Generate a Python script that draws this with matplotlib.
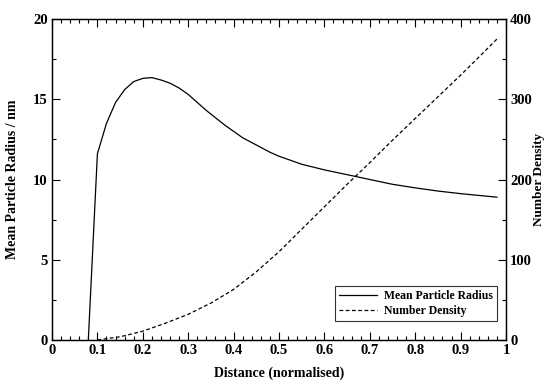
import numpy as np
import matplotlib
matplotlib.use("Agg")
import matplotlib.pyplot as plt
from matplotlib.ticker import MultipleLocator

plt.rcParams['font.family'] = ['Liberation Serif', 'DejaVu Serif']
plt.rcParams['font.weight'] = 'bold'

### ~~~~~~~~~~~~~~~~~~~~~~~~~~~~~~~~~~~~~~~ ###
# mean particle radius (left axis, nm)
radius_x = [0.08, 0.10, 0.12, 0.14, 0.16, 0.18, 0.20, 0.22, 0.24, 0.26, 0.28,
            0.30, 0.32, 0.34, 0.36, 0.38, 0.40, 0.42, 0.44, 0.46, 0.48, 0.50,
            0.55, 0.60, 0.65, 0.70, 0.75, 0.80, 0.85, 0.90, 0.95, 0.98]
radius_y = [0.0, 11.6, 13.5, 14.8, 15.6, 16.1, 16.3, 16.35, 16.2, 16.0, 15.7,
            15.3, 14.8, 14.3, 13.85, 13.4, 13.0, 12.6, 12.3, 12.0, 11.7, 11.45,
            10.95, 10.6, 10.3, 10.0, 9.7, 9.48, 9.28, 9.12, 8.98, 8.9]

# number density (right axis)
density_x = [0.10, 0.15, 0.20, 0.25, 0.30, 0.35, 0.40, 0.45, 0.50, 0.55,
             0.60, 0.65, 0.70, 0.75, 0.80, 0.85, 0.90, 0.95, 0.98]
density_y = [0, 4, 11, 21, 32, 46, 63, 85, 110, 138,
             166, 194, 221, 249, 276, 303, 330, 358, 375]

### ~~~~~~~~~~~~~~~~~~~~~~~~~~~~~~~~~~~~~~~ ###
fig = plt.figure(figsize=(5.47, 3.81), dpi=100)
ax = fig.add_axes([52/547, 1-340/381, (506-52)/547, (340-19)/381])
ax2 = ax.twinx()

l1, = ax.plot(radius_x, radius_y, color='black', linewidth=0.9,
              label='Mean Particle Radius')
l2, = ax2.plot(density_x, density_y, color='black', linewidth=0.9,
               linestyle=(0, (3, 2)), label='Number Density')

ax.set_xlim(0, 1)
ax.set_ylim(0, 20)
ax2.set_ylim(0, 400)

ax.xaxis.set_major_locator(MultipleLocator(0.1))
ax.xaxis.set_minor_locator(MultipleLocator(0.02))
ax.yaxis.set_major_locator(MultipleLocator(5))
ax.yaxis.set_minor_locator(MultipleLocator(2.5))
ax2.yaxis.set_major_locator(MultipleLocator(100))
ax2.yaxis.set_minor_locator(MultipleLocator(50))

ax.set_xticks(np.arange(0, 1.01, 0.1))
ax.set_xticklabels(['0', '0.1', '0.2', '0.3', '0.4', '0.5', '0.6', '0.7',
                    '0.8', '0.9', '1'])

ax.tick_params(axis='x', which='both', direction='in', top=True, labelsize=10.5, pad=3)
ax.tick_params(axis='y', which='both', direction='in', right=False, labelsize=10.5, pad=3)
ax.tick_params(which='major', length=5.5, width=0.8)
ax.tick_params(which='minor', length=3.2, width=0.8)
ax2.tick_params(axis='y', which='both', direction='in', labelsize=10.5, pad=3)
ax2.tick_params(which='major', length=5.5, width=0.8)
ax2.tick_params(which='minor', length=3.2, width=0.8)

for a in (ax, ax2):
    for s in a.spines.values():
        s.set_linewidth(0.9)

ax.set_xlabel('Distance (normalised)', fontsize=10, fontweight='bold', labelpad=7)
ax.set_ylabel('Mean Particle Radius / nm', fontsize=10, fontweight='bold', labelpad=10)
ax2.set_ylabel('Number Density', fontsize=9.5, fontweight='bold', labelpad=1)

leg = ax.legend(handles=[l1, l2], loc='lower right',
                bbox_to_anchor=((497-52)/454, (340-321)/321), borderaxespad=0,
                fontsize=8.5, frameon=True, fancybox=False, handlelength=3.2,
                borderpad=0.35, labelspacing=0.25, handletextpad=0.6)
leg.get_frame().set_edgecolor('black')
leg.get_frame().set_linewidth(0.8)

fig.savefig('out.png', dpi=100)
